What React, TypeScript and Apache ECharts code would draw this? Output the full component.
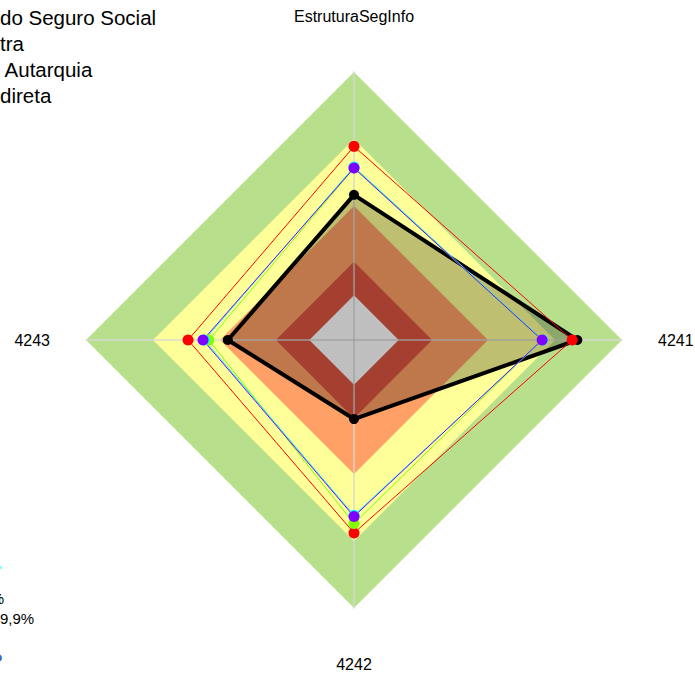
import React, { useEffect, useRef } from "react";
import * as echarts from "echarts";

// Indicators in counter-clockwise order starting at the top (top, left, bottom, right)
const indicatorNames = ["EstruturaSegInfo", "4243", "4242", "4241"];
const axisMax = 120;

// Background bands (outer limit of each band, %)
const bandLimits = [120, 90, 60, 35, 20];

// Series (same order as indicators)
const legendNames = ["do Seguro Social", "tra", " Autarquia", "direta"];
const blackValues = [65, 56.5, 35.4, 100];
const redValues = [86.7, 74.3, 86.4, 97.7];
const greenValues = [77, 65, 82.2, 84];
const cyanValues = [77.5, 67, 78.5, 84.5];
const purpleValues = [77, 67.6, 79, 84.2];

// Bottom-left partial legend texts
const bottomTexts = ["%", "9,9%"];

const bandColors = ["#B8E08C", "#FFFF99", "#FFA066", "#DD5540", "#FFFFFF"];
const FONT = "'Liberation Sans', Arial, sans-serif";

export default function App() {
  const ref = useRef<HTMLDivElement>(null);
  useEffect(() => {
    if (!ref.current) return;
    const chart = echarts.init(ref.current, null, { renderer: "svg" });

    const lineSeries = (name: string, values: number[], color: string) => ({
      type: "radar",
      z: 3,
      name,
      symbol: "circle",
      symbolSize: 11,
      lineStyle: { color, width: 1 },
      itemStyle: { color },
      data: [{ name, value: values }],
    });

    const option: any = {
      animation: false,
      backgroundColor: "#FFFFFF",
      legend: {
        orient: "vertical",
        left: -35,
        top: 2,
        itemWidth: 25,
        itemHeight: 14,
        itemGap: 5,
        data: legendNames,
        textStyle: { fontSize: 20.5, lineHeight: 20, color: "#000", fontFamily: FONT },
        selectedMode: false,
      },
      radar: {
        z: 2,
        center: [354, 340],
        radius: 268,
        startAngle: 90,
        shape: "polygon",
        splitNumber: 1,
        axisNameGap: 36,
        axisName: {
          color: "#000",
          fontSize: 16,
          fontFamily: FONT,
          padding: [12, 0, 12, 0],
        },
        axisLine: { lineStyle: { color: "rgba(215,215,215,0.9)", width: 1.5 } },
        splitLine: { show: false },
        splitArea: { show: false },
        axisTick: { show: false },
        axisLabel: { show: false },
        indicator: indicatorNames.map((n) => ({ name: n, min: 0, max: axisMax })),
      },
      graphic: [
        {
          type: "text",
          x: 4,
          y: 598,
          style: { text: bottomTexts[0], fontSize: 15, fontFamily: FONT, fill: "#000", align: "right", verticalAlign: "middle" },
        },
        {
          type: "text",
          x: 0,
          y: 618,
          style: { text: bottomTexts[1], fontSize: 15, fontFamily: FONT, fill: "#000", align: "left", verticalAlign: "middle" },
        },
        { type: "rect", shape: { x: 0, y: 566, width: 2, height: 3 }, style: { fill: "#7FFFFF" } },
        { type: "circle", shape: { cx: -2, cy: 658, r: 4 }, style: { fill: "#2F6FD0" } },
      ],
      series: [
        {
          type: "radar",
          z: 1,
          silent: true,
          symbol: "none",
          lineStyle: { width: 0 },
          data: bandLimits.map((v, i) => ({
            name: "band" + i,
            value: indicatorNames.map(() => v),
            areaStyle: { color: bandColors[i], opacity: 1 },
            lineStyle: { width: 0, opacity: 0 },
          })),
        },
        {
          type: "radar",
          z: 3,
          name: legendNames[0],
          symbol: "circle",
          symbolSize: 10,
          lineStyle: { color: "#000", width: 4 },
          itemStyle: { color: "#000" },
          areaStyle: { color: "rgba(0,0,0,0.25)", opacity: 1 },
          data: [{ name: legendNames[0], value: blackValues }],
        },
        lineSeries(legendNames[1], redValues, "#FF0000"),
        lineSeries(legendNames[2], greenValues, "#80FF00"),
        lineSeries(legendNames[3], cyanValues, "#00FFFF"),
        lineSeries("purple", purpleValues, "#8000FF"),
      ],
    };
    chart.setOption(option);
    return () => chart.dispose();
  }, []);
  return (
    <div
      ref={ref}
      style={{ position: "fixed", left: 0, top: 0, width: 695, height: 675 }}
    />
  );
}
